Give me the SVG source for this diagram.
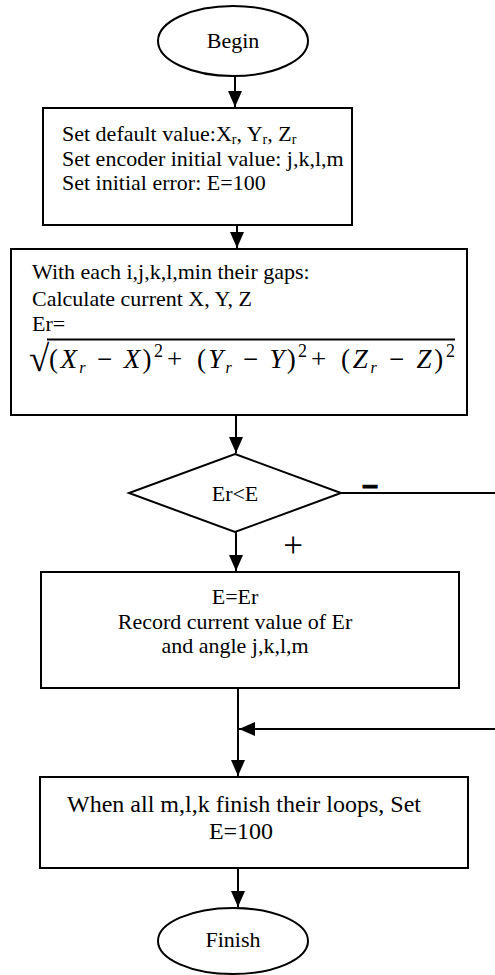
<svg xmlns="http://www.w3.org/2000/svg" width="495" height="975" viewBox="0 0 495 975">
<style>
.sh{fill:#fff;stroke:#000;stroke-width:2}
.t{font-family:"Liberation Serif","Times New Roman",serif;font-size:22px;fill:#000}
.c{text-anchor:middle}
.sub{font-size:14px}
.fm{font-family:"Liberation Serif","Times New Roman",serif;font-size:27px;fill:#000}
.it{font-style:italic}
.fsub{font-size:16px}
.sup{font-size:18px}
.cn{fill:none;stroke:#000;stroke-width:2}
</style>
<defs>
<marker id="ah" markerUnits="userSpaceOnUse" markerWidth="16" markerHeight="16" viewBox="0 0 16 14" refX="16" refY="7" orient="auto">
<path d="M0,0 L16,7 L0,14 Z" fill="#000"/>
</marker>
</defs>
<g id="connectors">
<path class="cn" d="M235,76 V107" marker-end="url(#ah)"/>
<path class="cn" d="M237,225 V248" marker-end="url(#ah)"/>
<path class="cn" d="M236,415 V453" marker-end="url(#ah)"/>
<path class="cn" d="M236,532 V571" marker-end="url(#ah)"/>
<path class="cn" d="M238,688 V776" marker-end="url(#ah)"/>
<path class="cn" d="M341,493 H498 V729 H239" marker-end="url(#ah)"/>
<path class="cn" d="M238,868 V907" marker-end="url(#ah)"/>
</g>
<g id="begin">
<ellipse class="sh" cx="233" cy="41" rx="75" ry="35"/>
<text class="t c" x="233" y="48">Begin</text>
</g>
<g id="init">
<rect class="sh" x="43" y="108" width="309" height="117"/>
<text class="t" x="62" y="141">Set default value:X<tspan class="sub" dy="3">r</tspan><tspan dy="-3">, Y</tspan><tspan class="sub" dy="3">r</tspan><tspan dy="-3">, Z</tspan><tspan class="sub" dy="3">r</tspan></text>
<text class="t" x="62" y="166">Set encoder initial value: j,k,l,m</text>
<text class="t" x="62" y="190">Set initial error: E=100</text>
</g>
<g id="calc">
<rect class="sh" x="11" y="249" width="456" height="166"/>
<text class="t" x="32" y="279">With each i,j,k,l,min their gaps:</text>
<text class="t" x="32" y="306">Calculate current X, Y, Z</text>
<text class="t" x="32" y="331">Er=</text>
<text class="fm" x="29" y="371" style="font-size:37px">√</text>
<line x1="47" y1="339.5" x2="455" y2="339.5" stroke="#000" stroke-width="2"/>
<text class="fm" x="49" y="368" textLength="114" lengthAdjust="spacing">(<tspan class="it">X</tspan><tspan class="fsub it" dy="5">r</tspan><tspan dy="-5"> − </tspan><tspan class="it">X</tspan>)<tspan class="sup" dy="-11">2</tspan></text>
<text class="fm" x="167" y="368">+</text>
<text class="fm" x="197" y="368" textLength="110" lengthAdjust="spacing">(<tspan class="it">Y</tspan><tspan class="fsub it" dy="5">r</tspan><tspan dy="-5"> − </tspan><tspan class="it">Y</tspan>)<tspan class="sup" dy="-11">2</tspan></text>
<text class="fm" x="311" y="368">+</text>
<text class="fm" x="341" y="368" textLength="114" lengthAdjust="spacing">(<tspan class="it">Z</tspan><tspan class="fsub it" dy="5">r</tspan><tspan dy="-5"> − </tspan><tspan class="it">Z</tspan>)<tspan class="sup" dy="-11">2</tspan></text>
</g>
<g id="decision">
<polygon class="sh" points="235,454 341,493 235,532 129,493"/>
<text class="t c" x="235" y="501">Er&lt;E</text>
<text x="370" y="494" text-anchor="middle" style="font-family:'Liberation Sans',Arial,sans-serif;font-size:28px;font-weight:bold" stroke="#000" stroke-width="1.2">–</text>
<text x="293" y="557" text-anchor="middle" style="font-family:'Liberation Serif','Times New Roman',serif;font-size:35px">+</text>
</g>
<g id="record">
<rect class="sh" x="41" y="572" width="418" height="116"/>
<text class="t c" x="235" y="604">E=Er</text>
<text class="t c" x="235" y="629">Record current value of Er</text>
<text class="t c" x="235" y="653">and angle j,k,l,m</text>
</g>
<g id="reset">
<rect class="sh" x="40" y="777" width="428" height="91"/>
<text class="t c" x="244" y="812" style="font-size:24px">When all m,l,k finish their loops, Set</text>
<text class="t c" x="241" y="839" style="font-size:24px">E=100</text>
</g>
<g id="finish">
<ellipse class="sh" cx="233" cy="941" rx="75" ry="33"/>
<text class="t c" x="233" y="947">Finish</text>
</g>
</svg>
